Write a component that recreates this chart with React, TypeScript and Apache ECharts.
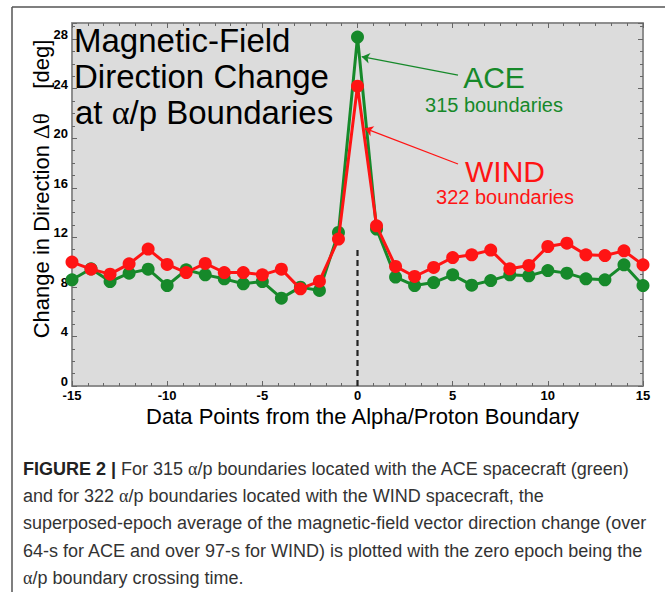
import React, { useEffect, useRef } from "react";
import * as echarts from "echarts";

const epochs = [-15, -14, -13, -12, -11, -10, -9, -8, -7, -6, -5, -4, -3, -2, -1, 0, 1, 2, 3, 4, 5, 6, 7, 8, 9, 10, 11, 12, 13, 14, 15];
const aceValues = [8.57, 9.46, 8.43, 9.11, 9.43, 8.11, 9.38, 8.97, 8.65, 8.25, 8.43, 7.09, 7.98, 7.71, 12.39, 28.16, 12.67, 8.79, 8.11, 8.35, 8.97, 8.14, 8.51, 8.97, 8.89, 9.32, 9.11, 8.65, 8.57, 9.78, 8.11];
const windValues = [10.0, 9.43, 9.03, 9.86, 11.05, 9.81, 9.16, 9.89, 9.16, 9.16, 8.97, 9.43, 7.84, 8.46, 11.86, 24.2, 12.93, 9.65, 8.84, 9.57, 10.37, 10.59, 10.97, 9.46, 9.73, 11.26, 11.53, 10.59, 10.53, 10.91, 9.78];
const zeroLine = [[0, 0], [0, 11]];
const aceArrow = [[5.28, 25.1], [0.22, 26.58]];
const windArrow = [[5.28, 17.92], [0.39, 20.8]];
const titleLines = ["Magnetic-Field", "Direction Change"];
const captionLines = [
  "{b|FIGURE 2 |} For 315 {g|α}/p boundaries located with the ACE spacecraft (green)",
  "and for 322 {g|α}/p boundaries located with the WIND spacecraft, the",
  "superposed-epoch average of the magnetic-field vector direction change (over",
  "64-s for ACE and over 97-s for WIND) is plotted with the zero epoch being the",
  "{g|α}/p boundary crossing time.",
];

const GREEN = "#16892a";
const RED = "#ff1414";
const SANS = "'Liberation Sans', Arial, Helvetica, sans-serif";
const SERIF = "'Liberation Serif', 'DejaVu Serif', serif";

export default function App() {
  const ref = useRef<HTMLDivElement>(null);
  useEffect(() => {
    if (!ref.current) return;
    const chart = echarts.init(ref.current, null, { renderer: "svg" });
    const aceData = epochs.map((x, i) => [x, aceValues[i]]);
    const windData = epochs.map((x, i) => [x, windValues[i]]);
    const tickLabel = { fontFamily: SANS, fontSize: 13, fontWeight: "bold", color: "#000" };
    const baseX = {
      type: "value",
      min: -15,
      max: 15,
      interval: 5,
      axisLine: { show: true, onZero: false, lineStyle: { color: "#888", width: 1.5 } },
      axisTick: { show: true, inside: true, length: 5, lineStyle: { color: "#666" } },
      minorTick: { show: true, splitNumber: 6, length: 3, lineStyle: { color: "#666" } },
      splitLine: { show: false },
      minorSplitLine: { show: false },
    };
    const baseY = {
      type: "value",
      min: 0,
      max: 29.3,
      interval: 4,
      axisLine: { show: true, onZero: false, lineStyle: { color: "#888", width: 1.5 } },
      axisTick: { show: true, inside: true, length: 5, lineStyle: { color: "#666" } },
      minorTick: { show: true, splitNumber: 4, length: 3, lineStyle: { color: "#666" } },
      splitLine: { show: false },
      minorSplitLine: { show: false },
    };
    const graphics: any[] = [
      { type: "line", shape: { x1: 12, y1: 7, x2: 665, y2: 7 }, style: { stroke: "#555", lineWidth: 1.5 } },
      { type: "line", shape: { x1: 12, y1: 7, x2: 12, y2: 592 }, style: { stroke: "#555", lineWidth: 1.5 } },
    ];
    titleLines.forEach((t, i) => {
      graphics.push({
        type: "text", x: 74, y: 40.5 + i * 36, z: 10,
        style: { text: t, fontFamily: SANS, fontSize: 33, fill: "#000", align: "left", verticalAlign: "middle" },
      });
    });
    graphics.push({
      type: "text", x: 75, y: 112, z: 10,
      style: {
        text: "at {g|α}/p Boundaries", fontFamily: SANS, fontSize: 33, fill: "#000", align: "left", verticalAlign: "middle",
        rich: { g: { fontFamily: SERIF, fontSize: 34, fill: "#000" } },
      },
    });
    graphics.push(
      { type: "text", x: 494, y: 77.5, z: 10, style: { text: "ACE", fontFamily: SANS, fontSize: 30, fill: GREEN, align: "center", verticalAlign: "middle" } },
      { type: "text", x: 494, y: 105, z: 10, style: { text: "315 boundaries", fontFamily: SANS, fontSize: 20, fill: GREEN, align: "center", verticalAlign: "middle" } },
      { type: "text", x: 505, y: 171, z: 10, style: { text: "WIND", fontFamily: SANS, fontSize: 30, fill: RED, align: "center", verticalAlign: "middle" } },
      { type: "text", x: 505, y: 196.5, z: 10, style: { text: "322 boundaries", fontFamily: SANS, fontSize: 20, fill: RED, align: "center", verticalAlign: "middle" } },
      {
        type: "text", x: 362.5, y: 416, z: 10,
        style: { text: "Data Points from the Alpha/Proton Boundary", fontFamily: SANS, fontSize: 22, fill: "#000", align: "center", verticalAlign: "middle" },
      },
      {
        type: "text", x: 41, y: 189, rotation: Math.PI / 2, z: 10,
        style: {
          text: "Change in Direction {g|Δθ}    [deg]", fontFamily: SANS, fontSize: 22, fill: "#000", align: "center", verticalAlign: "middle",
          rich: { g: { fontFamily: SERIF, fontSize: 23, fill: "#000" } },
        },
      }
    );
    captionLines.forEach((t, i) => {
      graphics.push({
        type: "text", x: 23, y: 469 + i * 27.2, z: 10,
        style: {
          text: t, fontFamily: SANS, fontSize: 18, fill: "#333", align: "left", verticalAlign: "middle",
          rich: {
            b: { fontFamily: SANS, fontSize: 18, fontWeight: "bold", fill: "#222" },
            g: { fontFamily: SERIF, fontSize: 18, fill: "#333" },
          },
        },
      });
    });

    chart.setOption({
      animation: false,
      backgroundColor: "#fff",
      grid: { left: 72, right: 22, top: 23, bottom: 206, show: true, backgroundColor: "#dcdcdc", borderColor: "#888", borderWidth: 1.5 },
      xAxis: [
        { ...baseX, position: "bottom", axisLabel: { ...tickLabel, margin: 3, lineHeight: 13 } },
        { ...baseX, position: "top", axisLabel: { show: false } },
      ],
      yAxis: [
        {
          ...baseY, position: "left",
          axisLabel: { ...tickLabel, margin: 4, verticalAlign: "bottom", lineHeight: 9, formatter: (v: number) => (v % 4 === 0 ? String(v) : "") },
        },
        { ...baseY, position: "right", axisLabel: { show: false } },
      ],
      series: [
        {
          type: "line", data: zeroLine, symbol: "none", silent: true, z: 1,
          lineStyle: { color: "#222", width: 2.2, type: [6, 4] },
        },
        {
          name: "ACE", type: "line", data: aceData, symbol: "circle", symbolSize: 13, z: 2,
          itemStyle: { color: GREEN }, lineStyle: { color: GREEN, width: 3 },
          markLine: {
            silent: true, symbol: ["none", "arrow"], symbolSize: 8, label: { show: false },
            lineStyle: { color: GREEN, width: 1.3, type: "solid" },
            data: [[{ coord: aceArrow[0] }, { coord: aceArrow[1] }]],
          },
        },
        {
          name: "WIND", type: "line", data: windData, symbol: "circle", symbolSize: 13, z: 3,
          itemStyle: { color: RED }, lineStyle: { color: RED, width: 3 },
          markLine: {
            silent: true, symbol: ["none", "arrow"], symbolSize: 8, label: { show: false },
            lineStyle: { color: RED, width: 1.3, type: "solid" },
            data: [[{ coord: windArrow[0] }, { coord: windArrow[1] }]],
          },
        },
      ],
      graphic: graphics,
    });
    return () => chart.dispose();
  }, []);
  return <div ref={ref} style={{ position: "absolute", left: 0, top: 0, width: 665, height: 592, background: "#fff" }} />;
}
